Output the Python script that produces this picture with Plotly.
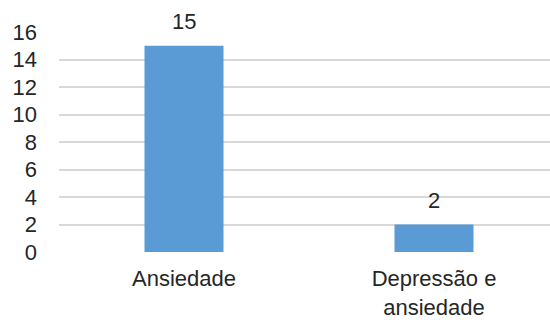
import plotly.graph_objects as go

categories = ["Ansiedade", "Depressão e<br>ansiedade"]
values = [15, 2]
y_ticks = [0, 2, 4, 6, 8, 10, 12, 14, 16]

FONT = "Liberation Sans, Arial"
TXT = "#262626"

fig = go.Figure()
fig.add_trace(go.Bar(
    x=[0, 1], y=values,
    width=0.316,
    marker=dict(color="#5B9BD5", line=dict(width=0)),
    hoverinfo="skip",
))

for i, v in enumerate(values):
    fig.add_annotation(
        x=i, y=v, xref="x", yref="y",
        text=str(v), showarrow=False,
        yanchor="bottom", yshift=10,
        font=dict(family=FONT, size=22, color=TXT),
    )

fig.update_layout(
    width=550, height=320,
    margin=dict(l=59, r=0, t=31.5, b=65.3),
    paper_bgcolor="white", plot_bgcolor="white",
    showlegend=False,
    font=dict(family=FONT, size=22, color=TXT),
    xaxis=dict(
        range=[-0.5, 1.464],
        tickmode="array", tickvals=[0, 1], ticktext=categories,
        tickfont=dict(family=FONT, size=22, color=TXT),
        showgrid=False, zeroline=False, showline=False,
        ticks="", ticklabelstandoff=11,
        fixedrange=True,
    ),
    yaxis=dict(
        range=[0, 16],
        tickmode="array", tickvals=y_ticks, ticktext=[str(t) for t in y_ticks],
        tickfont=dict(family=FONT, size=22, color=TXT),
        showgrid=True, gridcolor="#D9D9D9", gridwidth=1.5,
        zeroline=False, showline=False,
        ticks="", ticklabelstandoff=21,
        fixedrange=True,
    ),
)

fig.write_html("out.html")
